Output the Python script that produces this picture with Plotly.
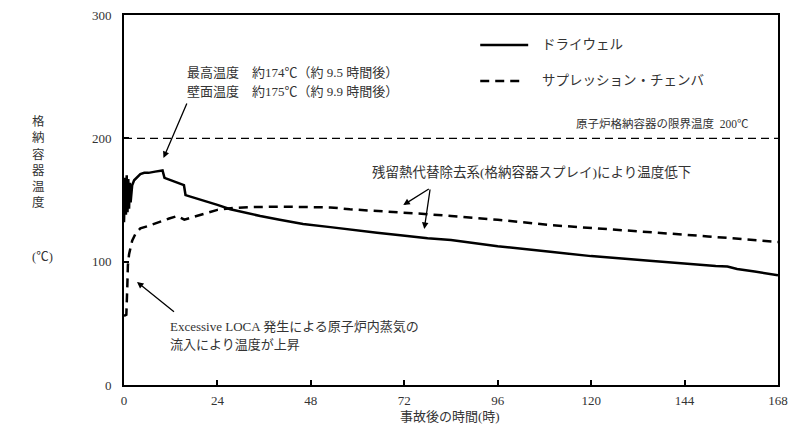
import plotly.graph_objects as go

# ---- data ----
dw_t = [0, 0.3, 0.5, 0.7, 0.9, 1.1, 1.3, 1.5, 1.7, 1.9, 2.1, 2.6, 3.2, 4.2, 5.2, 6.3, 8.0, 9.5, 9.9,
        10.4, 12.0, 14.0, 15.4, 15.8, 18.0, 21.0, 24.0, 27.3, 30.0, 35.0, 40.0, 46.0, 53.0, 58.0,
        65.0, 71.0, 78.0, 84.0, 96.0, 109.5, 120.0, 135.0, 145.0, 152.0, 155.0, 157.5, 162.0, 168.0]
dw_v = [132, 168, 138, 170, 140, 167, 143, 164, 148, 160, 162, 166, 168, 171, 172, 172, 173, 174, 174,
        168, 166, 164, 162, 154, 152, 149, 146, 142.5, 140.5, 137, 134, 130.5, 128, 126,
        123.5, 121.5, 119, 117.5, 112.5, 108, 104.5, 100.7, 98, 96.5, 96, 94, 92, 89]

ss_t = [0, 0.6, 0.85, 1.0, 1.3, 1.7, 2.1, 3.0, 4.2, 6.3, 8.0, 10.0, 11.6, 13.7, 15.5, 17.0, 19.6,
        22.0, 24.0, 28.0, 33.0, 40.0, 46.0, 53.0, 58.0, 65.0, 71.0, 78.0, 84.0, 96.0, 109.5,
        122.0, 135.0, 150.0, 168.0]
ss_v = [56, 57, 80, 97, 106, 112, 117, 123, 127, 129, 131, 133.5, 135, 137, 134, 135.5, 137.8,
        140.5, 142, 143.5, 144.3, 144.6, 144.5, 144, 142.5, 141.3, 140, 138.5, 137, 134, 129.7,
        127, 124.2, 120.5, 116]

limit_t = [0, 168]
limit_v = [200, 200]

x_ticks = [0, 24, 48, 72, 96, 120, 144, 168]
y_ticks = [0, 100, 200, 300]

FONT = "Liberation Serif, Noto Sans CJK JP, serif"
TXT = "#333333"

fig = go.Figure()
fig.add_trace(go.Scatter(x=limit_t, y=limit_v, mode="lines",
                         line=dict(color="black", width=1.2, dash="8px,5px"),
                         showlegend=False, hoverinfo="skip"))
fig.add_trace(go.Scatter(x=ss_t, y=ss_v, mode="lines", name="サプレッション・チェンバ",
                         line=dict(color="black", width=2.5, dash="9px,6px"), showlegend=False))
fig.add_trace(go.Scatter(x=dw_t, y=dw_v, mode="lines", name="ドライウェル",
                         line=dict(color="black", width=2.5), showlegend=False))

# page body has an 8px margin; size the figure so that it fits the window
OFF = 8
W, H = 802 - OFF, 434 - OFF
PL, PR, PT, PB = 123.5, 778, 15, 385      # plot area in window pixels
L, R, T, B = PL - OFF, 802 - PR, PT - OFF, 434 - PB
pw, ph = PR - PL, PB - PT


def px(x):
    return (x - PL) / pw


def py(y):
    return (PB - y) / ph


# legend samples
fig.add_shape(type="line", xref="paper", yref="paper", x0=px(480), x1=px(528), y0=py(45), y1=py(45),
              line=dict(color="black", width=2.5))
fig.add_shape(type="line", xref="paper", yref="paper", x0=px(480), x1=px(522), y0=py(81), y1=py(81),
              line=dict(color="black", width=2.5, dash="9px,6px"))

ann = []


def text(x, y, s, size=13, xanchor="left"):
    ann.append(dict(xref="paper", yref="paper", x=px(x), y=py(y), text=s, showarrow=False,
                    xanchor=xanchor, yanchor="middle", font=dict(family=FONT, size=size, color=TXT)))


text(540, 45, "ドライウェル", 13.5)
text(540, 81, "サプレッション・チェンバ", 13.5)
text(185, 73, "最高温度　約174℃（約 9.5 時間後）", 13)
text(185, 91, "壁面温度　約175℃（約 9.9 時間後）", 13)
text(574, 123, "原子炉格納容器の限界温度  200℃", 11.5)
text(370, 172, "残留熱代替除去系(格納容器スプレイ)により温度低下", 13.5)
text(168, 326, "Excessive LOCA 発生による原子炉内蒸気の", 13)
text(168, 344, "流入により温度が上昇", 13)
text(38, 162, "格<br>納<br>容<br>器<br>温<br>度", 12.5, xanchor="center")
text(42, 257, "(℃)", 12.5, xanchor="center")
text(450, 416, "事故後の時間(時)", 13, xanchor="center")


def arrow(tx, ty, ax, ay):
    ann.append(dict(xref="paper", yref="paper", x=px(tx), y=py(ty), axref="pixel", ayref="pixel",
                    ax=ax - tx, ay=ay - ty, text="", showarrow=True, arrowhead=2, arrowsize=1,
                    arrowwidth=1.3, arrowcolor="black"))


arrow(163, 158, 187, 102)
arrow(136.5, 282, 175, 313)
arrow(403, 205, 430, 188)
arrow(424, 229, 430, 188)

fig.update_layout(
    width=W, height=H, margin=dict(l=L, r=R, t=T, b=B, autoexpand=False),
    paper_bgcolor="white", plot_bgcolor="white",
    font=dict(family=FONT, size=13, color=TXT),
    showlegend=False,
    annotations=ann,
)
fig.update_xaxes(range=[0, 168], tickvals=x_ticks, ticktext=[str(v) for v in x_ticks],
                 ticks="inside", ticklen=5, tickwidth=1.5, tickcolor="black",
                 showline=True, linewidth=2, linecolor="black", mirror=True, showgrid=False,
                 zeroline=False, ticklabelstandoff=2, automargin=False, ticklabeloverflow="allow")
fig.update_yaxes(range=[0, 300], tickvals=y_ticks, ticktext=[str(v) for v in y_ticks],
                 ticks="inside", ticklen=5, tickwidth=1.5, tickcolor="black",
                 showline=True, linewidth=2, linecolor="black", mirror=True, showgrid=False,
                 zeroline=False, ticklabelstandoff=8, automargin=False, ticklabeloverflow="allow")

fig.write_html("out.html")
